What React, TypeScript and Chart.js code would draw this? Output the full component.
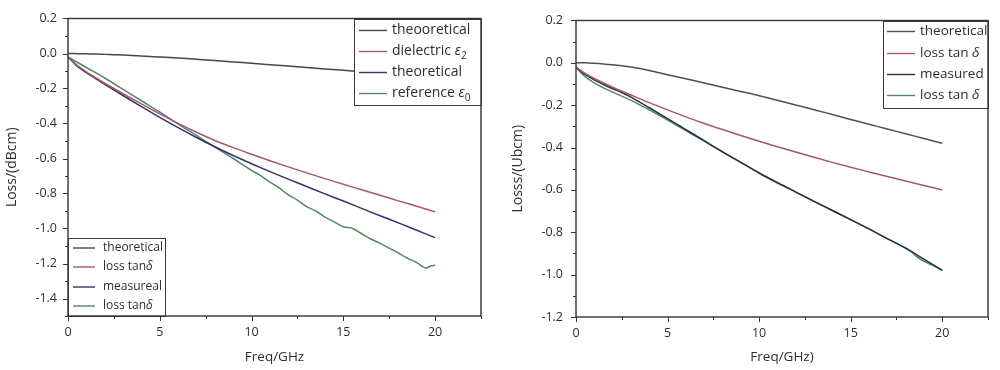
import React, { useEffect, useRef } from 'react';
import { Chart, registerables } from 'chart.js';

Chart.register(...registerables);

// ---------------- Data: left panel ----------------
const leftFreq = [0, 0.25, 0.5, 1, 1.5, 2, 2.5, 3, 4, 5, 6, 7, 8, 9, 10, 11, 12, 13, 14, 15, 16, 17, 18, 19, 20];
const leftTheoretical = [0, 0, -0.001, -0.002, -0.003, -0.005, -0.007, -0.009, -0.014, -0.02, -0.026, -0.033, -0.04, -0.048, -0.056, -0.064, -0.072, -0.08, -0.088, -0.096, -0.104, -0.112, -0.12, -0.128, -0.136];
const leftDielectric = [-0.02, -0.045, -0.068, -0.105, -0.138, -0.17, -0.2, -0.23, -0.288, -0.345, -0.399, -0.45, -0.497, -0.538, -0.576, -0.613, -0.648, -0.682, -0.715, -0.747, -0.779, -0.81, -0.842, -0.873, -0.905];
const leftMeasured = [-0.02, -0.047, -0.072, -0.11, -0.143, -0.176, -0.208, -0.24, -0.303, -0.365, -0.424, -0.48, -0.533, -0.583, -0.63, -0.675, -0.718, -0.76, -0.802, -0.843, -0.885, -0.927, -0.968, -1.01, -1.052];
const leftRefFreq = [0, 0.5, 1, 2, 3, 4, 5, 6, 7, 8, 9, 10, 10.5, 11, 11.5, 12, 12.5, 13, 13.5, 14, 14.5, 15, 15.5, 16, 16.5, 17, 17.5, 18, 18.5, 19, 19.5, 19.8, 20];
const leftReference = [-0.02, -0.05, -0.08, -0.14, -0.205, -0.27, -0.335, -0.403, -0.468, -0.535, -0.6, -0.668, -0.698, -0.735, -0.768, -0.808, -0.838, -0.875, -0.9, -0.935, -0.962, -0.99, -1.0, -1.03, -1.06, -1.085, -1.112, -1.14, -1.17, -1.195, -1.225, -1.213, -1.21];

// ---------------- Data: right panel ----------------
const rightFreq = [0, 0.25, 0.5, 1, 1.5, 2, 2.5, 3, 4, 5, 6, 7, 8, 9, 10, 11, 12, 13, 14, 15, 16, 17, 18, 19, 20];
const rightTheoretical = [0, 0, 0, -0.002, -0.005, -0.009, -0.014, -0.02, -0.036, -0.056, -0.075, -0.095, -0.115, -0.135, -0.155, -0.177, -0.199, -0.221, -0.244, -0.267, -0.29, -0.312, -0.335, -0.357, -0.38];
const rightLossTan = [-0.02, -0.036, -0.05, -0.074, -0.095, -0.115, -0.134, -0.152, -0.188, -0.222, -0.255, -0.286, -0.315, -0.343, -0.37, -0.396, -0.421, -0.446, -0.47, -0.493, -0.515, -0.537, -0.558, -0.579, -0.6];
const rightMeasured = [-0.02, -0.038, -0.055, -0.08, -0.102, -0.122, -0.14, -0.162, -0.212, -0.263, -0.315, -0.367, -0.42, -0.47, -0.52, -0.566, -0.61, -0.654, -0.697, -0.74, -0.784, -0.83, -0.875, -0.927, -0.98];
const rightLossFreq = [0, 0.25, 0.5, 1, 1.5, 2, 2.5, 3, 4, 5, 6, 7, 8, 9, 10, 11, 12, 13, 14, 15, 16, 17, 18, 18.3, 18.6, 18.9, 19.2, 19.6, 20];
const rightLossTan2 = [-0.02, -0.045, -0.065, -0.095, -0.118, -0.138, -0.157, -0.177, -0.222, -0.27, -0.32, -0.37, -0.42, -0.47, -0.52, -0.566, -0.61, -0.654, -0.697, -0.74, -0.784, -0.83, -0.875, -0.89, -0.915, -0.932, -0.945, -0.961, -0.98];

// ---------------- Text ----------------
type Seg = { t: string; italic?: boolean; sub?: boolean };
const leftTopLabels: Seg[][] = [
  [{ t: 'theooretical' }],
  [{ t: 'dielectric ' }, { t: 'ε', italic: true }, { t: '2', sub: true }],
  [{ t: 'theoretical' }],
  [{ t: 'reference ' }, { t: 'ε', italic: true }, { t: '0', sub: true }],
];
const leftBottomLabels: Seg[][] = [
  [{ t: 'theoretical' }],
  [{ t: 'loss tan' }, { t: 'δ', italic: true }],
  [{ t: 'measureal' }],
  [{ t: 'loss tan' }, { t: 'δ', italic: true }],
];
const rightLabels: Seg[][] = [
  [{ t: 'theoretical' }],
  [{ t: 'loss tan ' }, { t: 'δ', italic: true }],
  [{ t: 'measured' }],
  [{ t: 'loss tan ' }, { t: 'δ', italic: true }],
];
const leftXTitle = 'Freq/GHz';
const leftYTitle = 'Loss/(dBcm)';
const rightXTitle = 'Freq/GHz)';
const rightYTitle = 'Losss/(Ubcm)';

const FONT = '"Open Sans", "Noto Sans", sans-serif';
const TEXT = '#2e2e2e';
const C_GRAY = '#474747';
const C_PINK = '#a8566e';
const C_NAVY = '#34336a';
const C_GREEN = '#4f8a62';

const toPts = (xs: number[], ys: number[]) => xs.map((x, i) => ({ x, y: ys[i] }));

const frameTicksPlugin = {
  id: 'frameTicks',
  afterDraw(chart: any, _a: any, opts: any) {
    const { ctx, chartArea: a, scales } = chart;
    const xs = scales.x;
    const ys = scales.y;
    ctx.save();
    ctx.strokeStyle = '#333333';
    ctx.lineWidth = 1.4;
    ctx.strokeRect(a.left, a.top, a.right - a.left, a.bottom - a.top);
    ctx.lineWidth = 1;
    ctx.beginPath();
    const isMajor = (v: number, m: number) => Math.abs(v / m - Math.round(v / m)) < 1e-6;
    const xn = Math.round((xs.max - xs.min) / opts.xMinor);
    for (let i = 0; i <= xn; i++) {
      const v = xs.min + i * opts.xMinor;
      const px = Math.round(xs.getPixelForValue(v)) + 0.5;
      const len = isMajor(v, opts.xMajor) ? 5 : 3;
      ctx.moveTo(px, a.bottom);
      ctx.lineTo(px, a.bottom + len);
    }
    const yn = Math.round((ys.max - ys.min) / opts.yMinor);
    for (let i = 0; i <= yn; i++) {
      const v = ys.min + i * opts.yMinor;
      const py = Math.round(ys.getPixelForValue(v)) + 0.5;
      const len = isMajor(v, opts.yMajor) ? 5 : 3;
      ctx.moveTo(a.left, py);
      ctx.lineTo(a.left - len, py);
    }
    ctx.stroke();
    ctx.restore();
  },
};

const boxLegendPlugin = {
  id: 'boxLegends',
  afterDatasetsDraw(chart: any, _a: any, opts: any) {
    const { ctx, chartArea: a } = chart;
    for (const lg of opts.legends || []) {
      const x0 = lg.corner.includes('r') ? a.right - lg.w : a.left;
      const y0 = lg.corner.includes('t') ? a.top : a.bottom - lg.h;
      ctx.save();
      ctx.fillStyle = '#ffffff';
      ctx.fillRect(x0, y0, lg.w, lg.h);
      ctx.strokeStyle = '#3a3a3a';
      ctx.lineWidth = 1;
      ctx.strokeRect(Math.round(x0) + 0.5, Math.round(y0) + 0.5, lg.w, lg.h);
      lg.labels.forEach((segs: Seg[], i: number) => {
        const y = y0 + lg.rows[i];
        ctx.strokeStyle = chart.data.datasets[i].borderColor;
        ctx.lineWidth = 1.4;
        ctx.beginPath();
        ctx.moveTo(x0 + lg.lineX0, y);
        ctx.lineTo(x0 + lg.lineX1, y);
        ctx.stroke();
        ctx.fillStyle = TEXT;
        ctx.textBaseline = 'middle';
        ctx.textAlign = 'left';
        let tx = x0 + lg.textX;
        for (const s of segs) {
          const size = s.sub ? lg.size * 0.72 : lg.size;
          ctx.font = `${s.italic ? 'italic ' : ''}${size}px ${FONT}`;
          ctx.fillText(s.t, tx, y + (s.sub ? lg.size * 0.3 : 0));
          tx += ctx.measureText(s.t).width;
        }
      });
      ctx.restore();
    }
  },
};

function makeConfig(p: any): any {
  const font = { family: FONT, size: 12.5 };
  return {
    type: 'line',
    data: {
      datasets: p.series.map((s: any) => ({
        data: s.data,
        borderColor: s.color,
        borderWidth: 1.5,
        pointRadius: 0,
        fill: false,
        cubicInterpolationMode: 'monotone',
      })),
    },
    plugins: [frameTicksPlugin, boxLegendPlugin],
    options: {
      responsive: false,
      animation: false,
      devicePixelRatio: 1,
      layout: { padding: { left: 0, right: p.padRight, top: 14, bottom: 0 } },
      plugins: {
        legend: { display: false },
        tooltip: { enabled: false },
        frameTicks: { xMinor: 2.5, xMajor: 5, yMinor: 0.1, yMajor: 0.2 },
        boxLegends: { legends: p.legends },
      },
      scales: {
        x: {
          type: 'linear',
          min: 0,
          max: 22.5,
          grid: { display: false, drawTicks: false },
          border: { display: false },
          ticks: {
            stepSize: 5,
            includeBounds: false,
            autoSkip: false,
            maxRotation: 0,
            padding: 9,
            color: TEXT,
            font,
            callback: (v: number) => String(v),
          },
          title: {
            display: true,
            text: p.xTitle,
            color: TEXT,
            font: { family: FONT, size: 13.5 },
            padding: { top: 0, bottom: 5 },
          },
          afterFit: (s: any) => {
            s.height = p.xHeight;
          },
        },
        y: {
          type: 'linear',
          min: p.yMin,
          max: 0.2,
          grid: { display: false, drawTicks: false },
          border: { display: false },
          ticks: {
            stepSize: 0.2,
            includeBounds: false,
            autoSkip: false,
            padding: p.yPad,
            color: TEXT,
            font,
            callback: (v: number) => Number(v).toFixed(1),
          },
          title: {
            display: true,
            text: p.yTitle,
            color: TEXT,
            font: { family: FONT, size: 14 },
            padding: { top: p.yTitlePad, bottom: 0 },
          },
          afterFit: (s: any) => {
            s.width = p.yWidth;
          },
        },
      },
    },
  };
}

export default function App() {
  const leftRef = useRef<HTMLCanvasElement | null>(null);
  const rightRef = useRef<HTMLCanvasElement | null>(null);

  useEffect(() => {
    const left = new Chart(
      leftRef.current as HTMLCanvasElement,
      makeConfig({
        series: [
          { data: toPts(leftFreq, leftTheoretical), color: C_GRAY },
          { data: toPts(leftFreq, leftDielectric), color: C_PINK },
          { data: toPts(leftFreq, leftMeasured), color: C_NAVY },
          { data: toPts(leftRefFreq, leftReference), color: C_GREEN },
        ],
        legends: [
          { corner: 'tr', w: 127, h: 86, rows: [12, 33, 54, 75], lineX0: 5, lineX1: 33, textX: 38, size: 14, labels: leftTopLabels },
          { corner: 'bl', w: 97, h: 78, rows: [10, 29, 49, 68], lineX0: 5, lineX1: 27, textX: 35, size: 12, labels: leftBottomLabels },
        ],
        padRight: 19,
        xHeight: 54,
        yWidth: 68,
        yPad: 11,
        yMin: -1.5,
        xTitle: leftXTitle,
        yTitle: leftYTitle,
        yTitlePad: 4,
      })
    );
    const right = new Chart(
      rightRef.current as HTMLCanvasElement,
      makeConfig({
        series: [
          { data: toPts(rightFreq, rightTheoretical), color: '#505050' },
          { data: toPts(rightFreq, rightLossTan), color: C_PINK },
          { data: toPts(rightFreq, rightMeasured), color: '#25304f' },
          { data: toPts(rightLossFreq, rightLossTan2), color: C_GREEN },
        ],
        legends: [
          { corner: 'tr', w: 105, h: 87, rows: [11, 33, 54, 75], lineX0: 4, lineX1: 32, textX: 37, size: 13.5, labels: rightLabels },
        ],
        padRight: 12,
        xHeight: 53,
        yWidth: 76,
        yPad: 13,
        yMin: -1.2,
        xTitle: rightXTitle,
        yTitle: rightYTitle,
        yTitlePad: 10,
      })
    );
    return () => {
      left.destroy();
      right.destroy();
    };
  }, []);

  return (
    <div style={{ position: 'absolute', left: 0, top: 0, width: 1000, height: 370, background: '#fff' }}>
      <canvas ref={leftRef} width={500} height={370} style={{ position: 'absolute', left: 0, top: 0, width: 500, height: 370 }} />
      <canvas ref={rightRef} width={500} height={370} style={{ position: 'absolute', left: 500, top: 0, width: 500, height: 370 }} />
    </div>
  );
}
